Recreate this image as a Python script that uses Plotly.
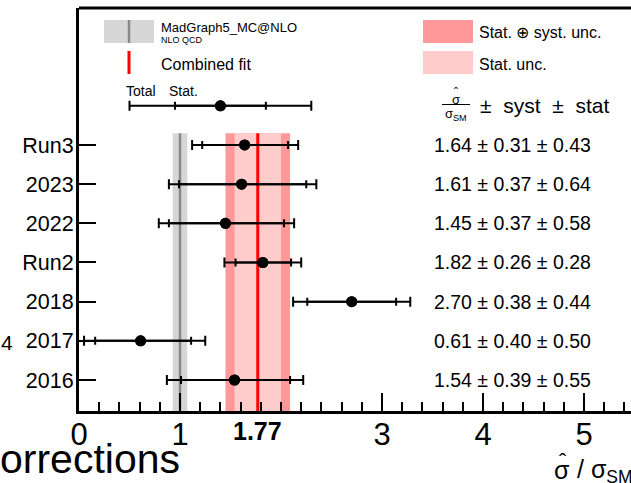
import plotly.graph_objects as go

# ---------------- data ----------------
rows = ["2016", "2017", "2018", "Run2", "2022", "2023", "Run3"]
vals = [1.54, 0.61, 2.70, 1.82, 1.45, 1.61, 1.64]
syst = [0.39, 0.40, 0.38, 0.26, 0.37, 0.37, 0.31]
stat = [0.55, 0.50, 0.44, 0.28, 0.58, 0.64, 0.43]
stat_lo = [0.53, 0.45, 0.44, 0.27, 0.56, 0.62, 0.42]
stat_hi = [0.55, 0.50, 0.44, 0.28, 0.58, 0.64, 0.43]
tot_lo = [0.67, 0.56, 0.58, 0.38, 0.66, 0.72, 0.52]
tot_hi = [0.68, 0.64, 0.58, 0.38, 0.68, 0.74, 0.53]

combined = 1.77
combined_tot = 0.32
combined_stat = 0.23
mc_val = 1.0
mc_unc = 0.072

# legend example error bar
leg_val = 1.40
leg_tot = 0.90
leg_stat = 0.45

xticks = [0, 1, 3, 4, 5]
xticklabels = ["0", "1", "3", "4", "5"]

# ---------------- layout geometry ----------------
W, H = 631, 483
L, R, T, B = 79, 0, 8, 72
PX_PER_UNIT = 101.0
ROW_PX = 39.17
ROW0_PX = 380.0
x_max = (W - L - R) / PX_PER_UNIT
y_top = (ROW0_PX - T) / ROW_PX
y_bot = (ROW0_PX - (H - B)) / ROW_PX

def px2x(px):
    return (px - L) / PX_PER_UNIT

def py2y(py):
    return (ROW0_PX - py) / ROW_PX

def px2paper(px):
    return (px - L) / (W - L - R)

def py2paper(py):
    return ((H - B) - py) / (H - B - T)

FONT = "Liberation Sans, Arial, Helvetica, sans-serif"
DARK_PINK = "#ff9999"
LIGHT_PINK = "#ffcccc"
GRAY_BAND = "#d6d6d6"
GRAY_LINE = "#888888"

fig = go.Figure()
ys = list(range(len(rows)))

# total error bars with markers
fig.add_trace(go.Scatter(
    x=vals, y=ys, mode="markers",
    marker=dict(color="black", size=11),
    error_x=dict(type="data", symmetric=False, array=tot_hi, arrayminus=tot_lo,
                 color="black", thickness=2, width=5),
    showlegend=False, hoverinfo="skip"))
# stat error bars
fig.add_trace(go.Scatter(
    x=vals, y=ys, mode="markers",
    marker=dict(color="black", size=11),
    error_x=dict(type="data", symmetric=False, array=stat_hi, arrayminus=stat_lo,
                 color="black", thickness=2, width=4),
    showlegend=False, hoverinfo="skip"))

# legend example
leg_y = 7
fig.add_trace(go.Scatter(
    x=[leg_val], y=[leg_y], mode="markers",
    marker=dict(color="black", size=11),
    error_x=dict(type="data", array=[leg_tot], color="black", thickness=2, width=5),
    showlegend=False, hoverinfo="skip"))
fig.add_trace(go.Scatter(
    x=[leg_val], y=[leg_y], mode="markers",
    marker=dict(color="black", size=11),
    error_x=dict(type="data", array=[leg_stat], color="black", thickness=2, width=4),
    showlegend=False, hoverinfo="skip"))

band_top = py2y(133.3)
shapes = []
# MC band
shapes.append(dict(type="rect", xref="x", yref="y", x0=mc_val - mc_unc, x1=mc_val + mc_unc,
                   y0=y_bot, y1=band_top, fillcolor=GRAY_BAND, line=dict(width=0), layer="below"))
shapes.append(dict(type="line", xref="x", yref="y", x0=mc_val, x1=mc_val, y0=y_bot, y1=band_top,
                   line=dict(color=GRAY_LINE, width=2.5), layer="below"))
# combined bands
shapes.append(dict(type="rect", xref="x", yref="y", x0=combined - combined_tot, x1=combined + combined_tot,
                   y0=y_bot, y1=band_top, fillcolor=DARK_PINK, line=dict(width=0), layer="below"))
shapes.append(dict(type="rect", xref="x", yref="y", x0=combined - combined_stat, x1=combined + combined_stat,
                   y0=y_bot, y1=band_top, fillcolor=LIGHT_PINK, line=dict(width=0), layer="below"))
shapes.append(dict(type="line", xref="x", yref="y", x0=combined, x1=combined, y0=y_bot, y1=band_top,
                   line=dict(color="#ff0000", width=3), layer="below"))

# legend graphics
ly0, ly1 = py2y(43), py2y(20)
shapes.append(dict(type="rect", xref="x", yref="y", x0=px2x(104), x1=px2x(154), y0=ly0, y1=ly1,
                   fillcolor=GRAY_BAND, line=dict(width=0)))
shapes.append(dict(type="line", xref="x", yref="y", x0=px2x(129), x1=px2x(129), y0=ly0, y1=ly1,
                   line=dict(color=GRAY_LINE, width=2.5)))
shapes.append(dict(type="line", xref="x", yref="y", x0=px2x(129), x1=px2x(129), y0=py2y(74), y1=py2y(51),
                   line=dict(color="#ff0000", width=3)))
shapes.append(dict(type="rect", xref="x", yref="y", x0=px2x(423), x1=px2x(473), y0=ly0, y1=ly1,
                   fillcolor=DARK_PINK, line=dict(width=0)))
shapes.append(dict(type="rect", xref="x", yref="y", x0=px2x(423), x1=px2x(473), y0=py2y(74), y1=py2y(51),
                   fillcolor=LIGHT_PINK, line=dict(width=0)))
# fraction bar
shapes.append(dict(type="line", xref="x", yref="y", x0=px2x(442), x1=px2x(470), y0=py2y(104.5), y1=py2y(104.5),
                   line=dict(color="black", width=1)))
# top frame line
shapes.append(dict(type="line", xref="paper", yref="paper", x0=0, x1=1.01, y0=1, y1=1,
                   line=dict(color="black", width=3)))

annotations = []

def txt(text, x, y, size, xanchor="left", xref="x", yref="y", bold=False, yanchor="middle"):
    if bold:
        text = "<b>" + text + "</b>"
    annotations.append(dict(text=text, x=x, y=y, xref=xref, yref=yref, showarrow=False,
                            xanchor=xanchor, yanchor=yanchor,
                            font=dict(family=FONT, size=size, color="black")))

# values text
for i, (v, sy, st) in enumerate(zip(vals, syst, stat)):
    txt(f"{v:.2f} ± {sy:.2f} ± {st:.2f}", px2x(432), i, 19.5)

# header
txt("σ", px2x(456), py2y(99), 13, xanchor="center")
txt("ˆ", px2x(456), py2y(93), 12, xanchor="center")
txt("σ<sub>SM</sub>", px2x(456), py2y(114), 13, xanchor="center")
txt("±  syst  ±  stat", px2x(478), py2y(105), 21)

# legend texts
txt("MadGraph5_MC@NLO", px2x(159), py2y(27), 13)
txt("NLO QCD", px2x(159), py2y(40), 9)
txt("Combined fit", px2x(159), py2y(64), 16)
txt("Stat. ⊕ syst. unc.", px2x(477), py2y(32), 16)
txt("Stat. unc.", px2x(477), py2y(64), 16)
txt("Total", px2x(141), py2y(91), 14, xanchor="center")
txt("Stat.", px2x(183), py2y(91), 14, xanchor="center")

# x-axis special label
txt("1.77", combined, py2paper(431), 25, xanchor="center", yref="paper", bold=True)
# x-axis title
txt("σ", px2paper(552), py2paper(470), 25, yref="paper", xref="paper")
txt("ˆ", px2paper(557), py2paper(461), 22, yref="paper", xref="paper")
txt("/ σ<sub>SM</sub>", px2paper(575), py2paper(471), 25, yref="paper", xref="paper")
# cropped outside text
txt("orrections", px2paper(-2), py2paper(459), 41, yref="paper", xref="paper")
txt("4", px2paper(-1), py2paper(342), 21, yref="paper", xref="paper")

fig.update_layout(
    template="none",
    width=W, height=H,
    margin=dict(l=L, r=R, t=T, b=B, pad=0, autoexpand=False),
    plot_bgcolor="white", paper_bgcolor="white",
    shapes=shapes, annotations=annotations,
    font=dict(family=FONT, color="black"),
    xaxis=dict(range=[0, x_max], showgrid=False, zeroline=False, automargin=False,
               showline=True, linecolor="black", linewidth=3,
               tickmode="array", tickvals=xticks, ticktext=xticklabels,
               ticks="inside", ticklen=18, tickwidth=2, tickcolor="black",
               ticklabelstandoff=-6,
               tickfont=dict(family=FONT, size=31, color="black"),
               minor=dict(dtick=0.2, tick0=0, ticks="inside", ticklen=9, tickwidth=1.5,
                          tickcolor="black", showgrid=False),
               fixedrange=True),
    yaxis=dict(range=[y_bot, y_top], showgrid=False, zeroline=False, automargin=False,
               showline=True, linecolor="black", linewidth=3,
               tickmode="array", tickvals=ys, ticktext=rows,
               ticks="inside", ticklen=17, tickwidth=2, tickcolor="black",
               ticklabelstandoff=-2,
               tickfont=dict(family=FONT, size=21.5, color="black"),
               fixedrange=True),
)

fig.write_html("out.html", config={"displayModeBar": False},
               post_script="document.body.style.margin='0';document.body.style.overflow='hidden';")
